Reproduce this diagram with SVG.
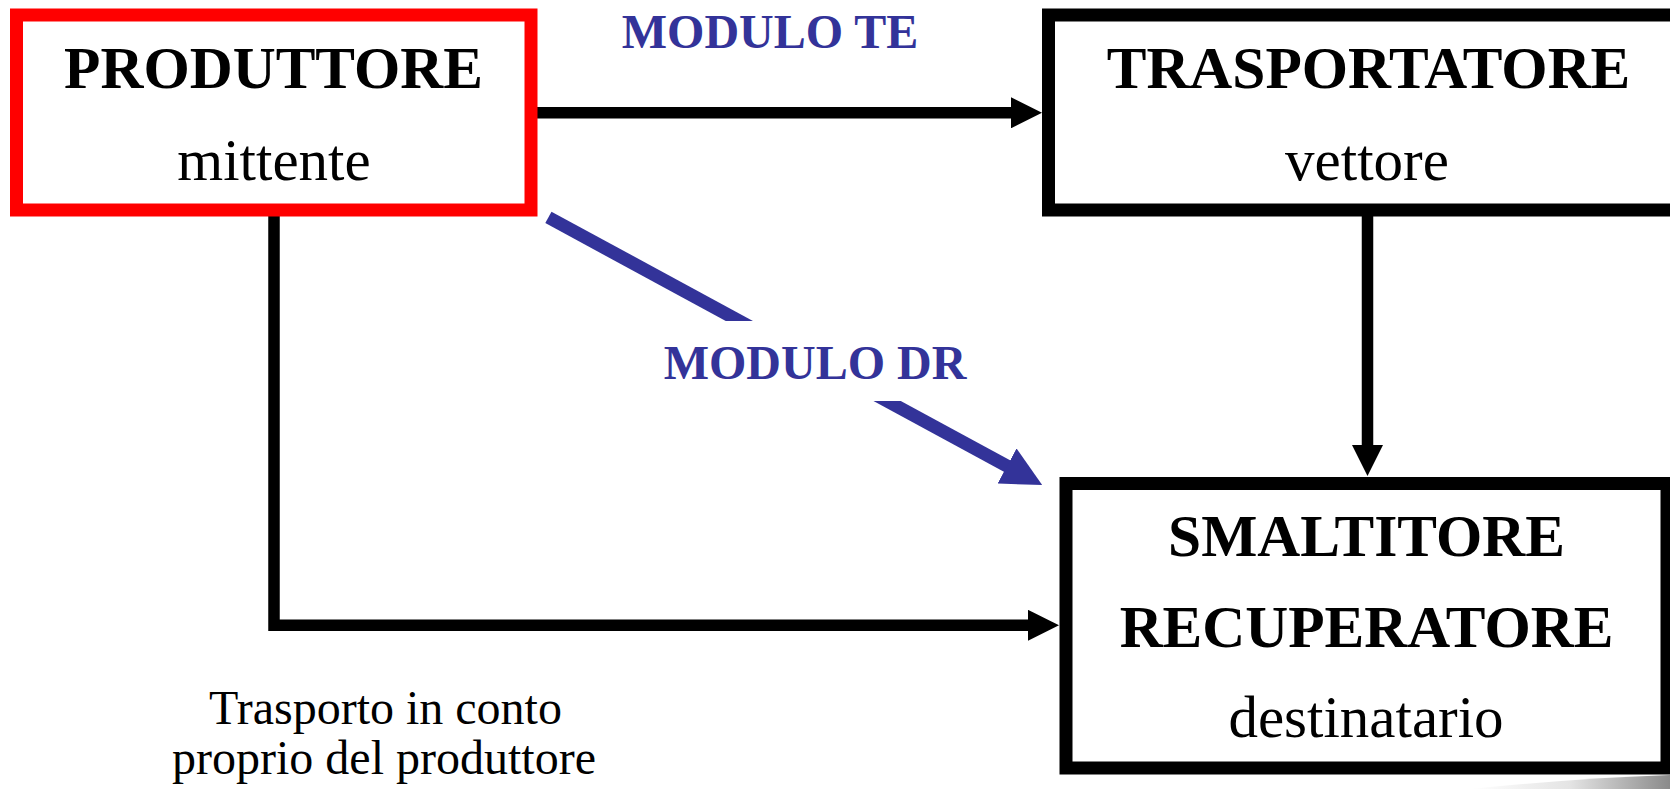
<svg xmlns="http://www.w3.org/2000/svg" width="1670" height="789" viewBox="0 0 1670 789">
  <style>
    .box { fill: #ffffff; stroke-width: 13; }
    .title { font-family: "Liberation Serif", "Times New Roman", serif; font-weight: bold; font-size: 59.5px; fill: #000000; text-anchor: middle; }
    .sub { font-family: "Liberation Serif", "Times New Roman", serif; font-size: 59px; fill: #000000; text-anchor: middle; }
    .lbl { font-family: "Liberation Serif", "Times New Roman", serif; font-weight: bold; font-size: 48px; fill: #333399; text-anchor: middle; }
    .note { font-family: "Liberation Serif", "Times New Roman", serif; font-size: 48px; fill: #000000; text-anchor: middle; }
    .conn { fill: none; stroke: #000000; stroke-width: 11.5; }
    .connb { fill: none; stroke: #333399; stroke-width: 13; }
  </style>
  <defs>
    <marker id="ah" markerUnits="userSpaceOnUse" viewBox="0 0 31 31" markerWidth="31" markerHeight="31" refX="1" refY="15.5" orient="auto">
      <path d="M0,0 L31,15.5 L0,31 Z" fill="#000000"/>
    </marker>
    <marker id="ahb" markerUnits="userSpaceOnUse" viewBox="0 0 40 40" markerWidth="40" markerHeight="40" refX="1" refY="20" orient="auto">
      <path d="M0,0 L40,20 L0,40 Z" fill="#333399"/>
    </marker>
    <linearGradient id="curl" x1="0" y1="0" x2="1" y2="0">
      <stop offset="0" stop-color="#ffffff"/>
      <stop offset="0.5" stop-color="#e4e4e4"/>
      <stop offset="1" stop-color="#8a8a8a"/>
    </linearGradient>
  </defs>
  <rect width="1670" height="789" fill="#ffffff"/>

  <g id="connectors">
    <path class="conn" d="M537,112.8 H1012" marker-end="url(#ah)"/>
    <path class="conn" d="M1367.5,216 V446" marker-end="url(#ah)"/>
    <path class="conn" d="M274,216 V625.3 H1029" marker-end="url(#ah)"/>
    <path class="connb" d="M548.4,217.4 L1007.9,466.5" marker-end="url(#ahb)"/>
    <g id="label-te">
      <text class="lbl" x="770" y="48">MODULO TE</text>
    </g>
    <g id="label-dr">
      <rect x="655" y="321" width="320" height="80" fill="#ffffff"/>
      <text class="lbl" x="815" y="379">MODULO DR</text>
    </g>
  </g>

  <g id="produttore">
    <rect class="box" x="16.5" y="15" width="514.5" height="195" stroke="#ff0000"/>
    <text class="title" x="273.5" y="88.3">PRODUTTORE</text>
    <text class="sub" x="274" y="180">mittente</text>
  </g>

  <g id="trasportatore">
    <rect class="box" x="1048.5" y="15" width="660" height="195" stroke="#000000"/>
    <text class="title" x="1368.5" y="88.3">TRASPORTATORE</text>
    <text class="sub" x="1367" y="180">vettore</text>
  </g>

  <g id="smaltitore">
    <rect class="box" x="1066" y="483.5" width="601" height="284.5" stroke="#000000"/>
    <text class="title" x="1366.5" y="556">SMALTITORE</text>
    <text class="title" x="1366.5" y="646.7">RECUPERATORE</text>
    <text class="sub" x="1366" y="736.7">destinatario</text>
  </g>

  <g id="nota">
    <text class="note" x="385.5" y="724">Trasporto in conto</text>
    <text class="note" x="384" y="773.5">proprio del produttore</text>
  </g>

  <path d="M1470,789 Q1580,778 1670,775 V789 Z" fill="url(#curl)"/>
</svg>
